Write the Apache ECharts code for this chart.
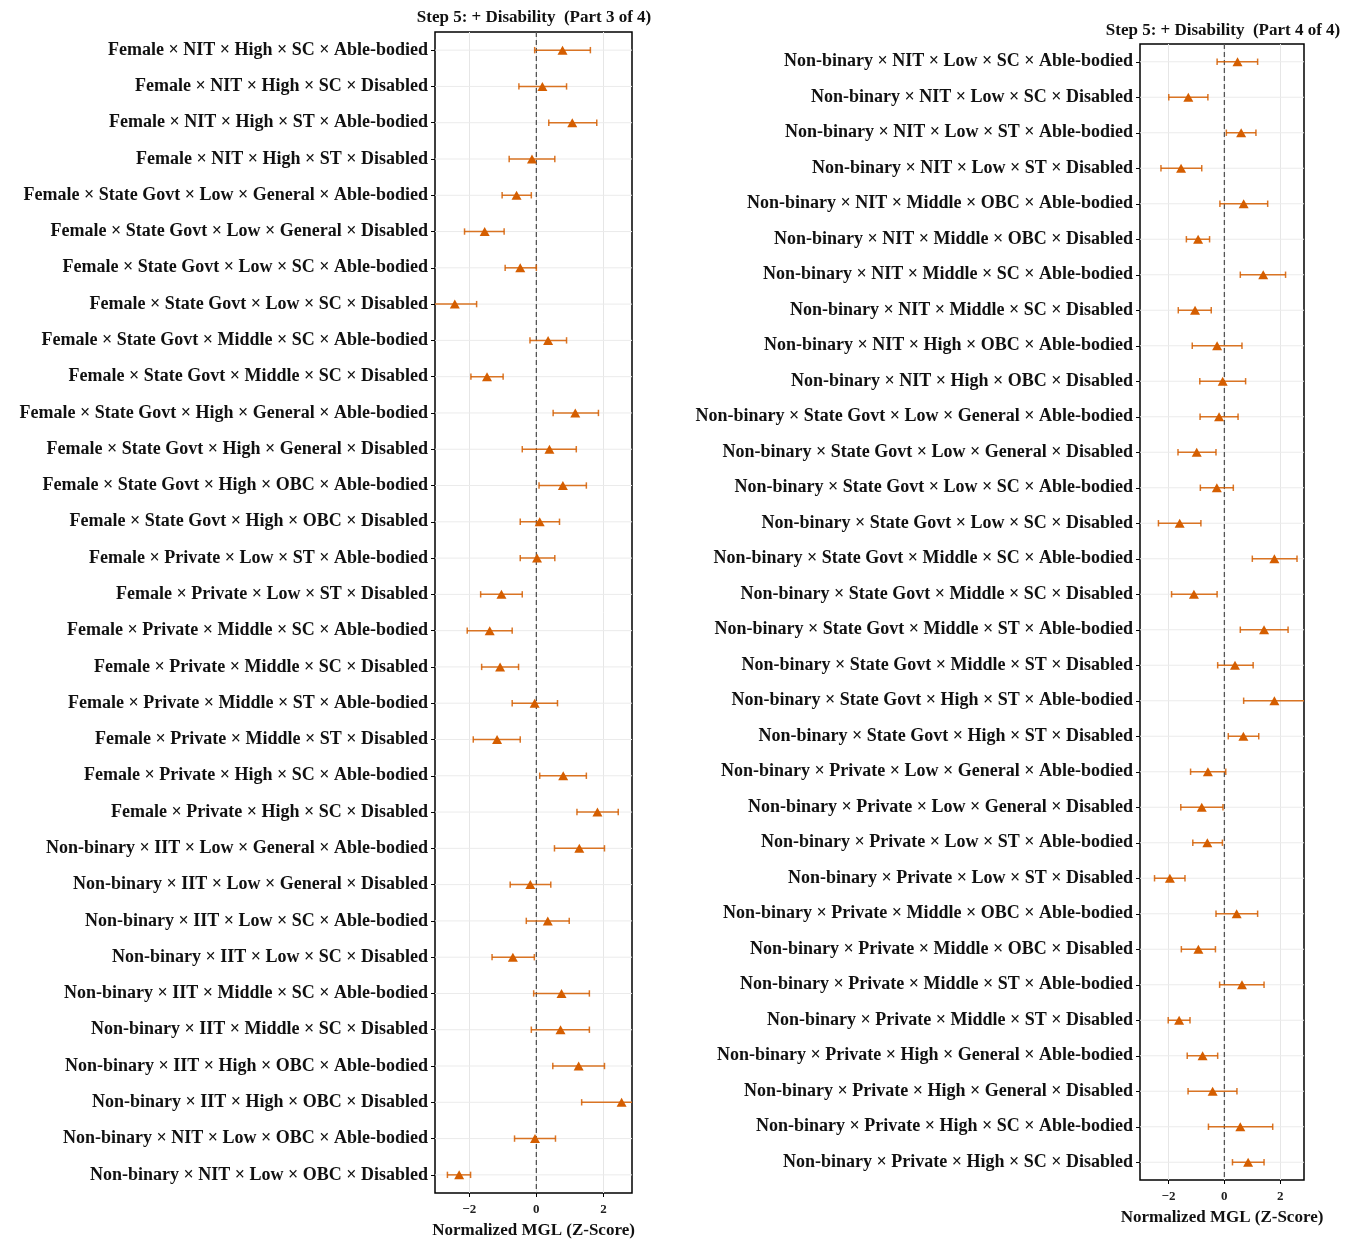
<!DOCTYPE html>
<html>
<head>
<meta charset="utf-8">
<script src="https://cdn.jsdelivr.net/npm/echarts@6/dist/echarts.min.js"></script>
<style>
html,body{margin:0;padding:0;background:#fff;}
#chart{width:1348px;height:1239px;}
</style>
</head>
<body>
<div id="chart"></div>
<script>
const titleLeft = 'Step 5: + Disability  (Part 3 of 4)';
const titleRight = 'Step 5: + Disability  (Part 4 of 4)';
const axisName = 'Normalized MGL (Z-Score)';
const xTicks = [-2, 0, 2];

const labels3 = [
 'Female × NIT × High × SC × Able-bodied',
 'Female × NIT × High × SC × Disabled',
 'Female × NIT × High × ST × Able-bodied',
 'Female × NIT × High × ST × Disabled',
 'Female × State Govt × Low × General × Able-bodied',
 'Female × State Govt × Low × General × Disabled',
 'Female × State Govt × Low × SC × Able-bodied',
 'Female × State Govt × Low × SC × Disabled',
 'Female × State Govt × Middle × SC × Able-bodied',
 'Female × State Govt × Middle × SC × Disabled',
 'Female × State Govt × High × General × Able-bodied',
 'Female × State Govt × High × General × Disabled',
 'Female × State Govt × High × OBC × Able-bodied',
 'Female × State Govt × High × OBC × Disabled',
 'Female × Private × Low × ST × Able-bodied',
 'Female × Private × Low × ST × Disabled',
 'Female × Private × Middle × SC × Able-bodied',
 'Female × Private × Middle × SC × Disabled',
 'Female × Private × Middle × ST × Able-bodied',
 'Female × Private × Middle × ST × Disabled',
 'Female × Private × High × SC × Able-bodied',
 'Female × Private × High × SC × Disabled',
 'Non-binary × IIT × Low × General × Able-bodied',
 'Non-binary × IIT × Low × General × Disabled',
 'Non-binary × IIT × Low × SC × Able-bodied',
 'Non-binary × IIT × Low × SC × Disabled',
 'Non-binary × IIT × Middle × SC × Able-bodied',
 'Non-binary × IIT × Middle × SC × Disabled',
 'Non-binary × IIT × High × OBC × Able-bodied',
 'Non-binary × IIT × High × OBC × Disabled',
 'Non-binary × NIT × Low × OBC × Able-bodied',
 'Non-binary × NIT × Low × OBC × Disabled'
];
const est3 = [0.78,0.18,1.07,-0.13,-0.59,-1.54,-0.48,-2.43,0.35,-1.47,1.16,0.39,0.79,0.10,0.02,-1.04,
              -1.39,-1.08,-0.05,-1.17,0.80,1.82,1.28,-0.18,0.34,-0.70,0.75,0.72,1.26,2.54,-0.04,-2.30];
const lo3  = [-0.05,-0.52,0.37,-0.81,-1.02,-2.14,-0.93,-3.08,-0.19,-1.95,0.50,-0.42,0.08,-0.48,-0.48,-1.66,
              -2.06,-1.63,-0.72,-1.88,0.10,1.21,0.54,-0.78,-0.30,-1.32,-0.08,-0.15,0.49,1.35,-0.65,-2.65];
const hi3  = [1.61,0.90,1.80,0.55,-0.15,-0.96,0.00,-1.78,0.90,-0.99,1.85,1.19,1.49,0.69,0.55,-0.42,
              -0.72,-0.53,0.63,-0.48,1.49,2.44,2.03,0.43,0.98,-0.06,1.58,1.58,2.03,3.73,0.57,-1.96];

const labels4 = [
 'Non-binary × NIT × Low × SC × Able-bodied',
 'Non-binary × NIT × Low × SC × Disabled',
 'Non-binary × NIT × Low × ST × Able-bodied',
 'Non-binary × NIT × Low × ST × Disabled',
 'Non-binary × NIT × Middle × OBC × Able-bodied',
 'Non-binary × NIT × Middle × OBC × Disabled',
 'Non-binary × NIT × Middle × SC × Able-bodied',
 'Non-binary × NIT × Middle × SC × Disabled',
 'Non-binary × NIT × High × OBC × Able-bodied',
 'Non-binary × NIT × High × OBC × Disabled',
 'Non-binary × State Govt × Low × General × Able-bodied',
 'Non-binary × State Govt × Low × General × Disabled',
 'Non-binary × State Govt × Low × SC × Able-bodied',
 'Non-binary × State Govt × Low × SC × Disabled',
 'Non-binary × State Govt × Middle × SC × Able-bodied',
 'Non-binary × State Govt × Middle × SC × Disabled',
 'Non-binary × State Govt × Middle × ST × Able-bodied',
 'Non-binary × State Govt × Middle × ST × Disabled',
 'Non-binary × State Govt × High × ST × Able-bodied',
 'Non-binary × State Govt × High × ST × Disabled',
 'Non-binary × Private × Low × General × Able-bodied',
 'Non-binary × Private × Low × General × Disabled',
 'Non-binary × Private × Low × ST × Able-bodied',
 'Non-binary × Private × Low × ST × Disabled',
 'Non-binary × Private × Middle × OBC × Able-bodied',
 'Non-binary × Private × Middle × OBC × Disabled',
 'Non-binary × Private × Middle × ST × Able-bodied',
 'Non-binary × Private × Middle × ST × Disabled',
 'Non-binary × Private × High × General × Able-bodied',
 'Non-binary × Private × High × General × Disabled',
 'Non-binary × Private × High × SC × Able-bodied',
 'Non-binary × Private × High × SC × Disabled'
];
const est4 = [0.47,-1.29,0.60,-1.55,0.69,-0.94,1.39,-1.05,-0.26,-0.06,-0.19,-0.99,-0.27,-1.60,1.79,-1.09,
              1.42,0.38,1.79,0.68,-0.59,-0.81,-0.61,-1.95,0.44,-0.93,0.63,-1.62,-0.78,-0.42,0.57,0.85];
const lo4  = [-0.26,-1.99,0.07,-2.27,-0.16,-1.36,0.57,-1.65,-1.15,-0.88,-0.87,-1.66,-0.86,-2.36,1.00,-1.89,
              0.57,-0.24,0.69,0.14,-1.21,-1.56,-1.13,-2.50,-0.30,-1.54,-0.17,-2.01,-1.33,-1.30,-0.57,0.29];
const hi4  = [1.19,-0.59,1.13,-0.81,1.55,-0.53,2.19,-0.47,0.63,0.76,0.49,-0.30,0.32,-0.84,2.60,-0.26,
              2.28,1.03,2.89,1.23,0.05,-0.05,-0.07,-1.41,1.19,-0.32,1.42,-1.23,-0.24,0.45,1.73,1.42];

const X_MIN = -3.02, X_MAX = 2.85;
const ORANGE = '#D55E00';
const SERIF = '"Liberation Serif", "DejaVu Serif", serif';

function fmtTick(v){ return v < 0 ? '\u2212' + Math.abs(v) : String(v); }

function errRender(params, api){
  const lo = api.value(0), hi = api.value(1), yi = api.value(2);
  const cs = params.coordSys;
  const p1 = api.coord([lo, yi]);
  const p2 = api.coord([hi, yi]);
  const y = p1[1];
  const xl = cs.x, xr = cs.x + cs.width;
  const a = Math.max(p1[0], xl), b = Math.min(p2[0], xr);
  const capH = 3.2;
  const es = {stroke:ORANGE, lineWidth:1.5, opacity:0.85};
  const children = [
    {type:'line', shape:{x1:xl, y1:y, x2:xr, y2:y}, style:{stroke:'#ebebeb', lineWidth:1}, z2:0}
  ];
  if (params.dataIndex === 0) {
    const zx = api.coord([0, yi])[0];
    children.push({type:'line', shape:{x1:zx, y1:cs.y, x2:zx, y2:cs.y + cs.height},
      style:{stroke:'#555', lineWidth:1.3, lineDash:[5,3]}, z2:1});
  }
  children.push({type:'line', shape:{x1:a, y1:y, x2:b, y2:y}, style:es, z2:2});
  if (p1[0] >= xl) children.push({type:'line', shape:{x1:p1[0], y1:y-capH, x2:p1[0], y2:y+capH}, style:es, z2:2});
  if (p2[0] <= xr) children.push({type:'line', shape:{x1:p2[0], y1:y-capH, x2:p2[0], y2:y+capH}, style:es, z2:2});
  return {type:'group', children};
}

function makeX(gi){
  return {
    type:'value', gridIndex:gi, min:X_MIN, max:X_MAX,
    name: axisName, nameLocation:'middle', nameGap:29,
    nameTextStyle:{fontFamily:SERIF, fontWeight:'bold', fontSize:17, color:'#111'},
    axisLine:{show:false, onZero:false},
    axisTick:{show:true, length:4, customValues:xTicks, lineStyle:{color:'#000', width:1}},
    axisLabel:{customValues:xTicks, formatter:fmtTick, fontFamily:SERIF, fontWeight:'bold', fontSize:13, color:'#222', margin:10},
    splitLine:{show:true, lineStyle:{color:'#e6e6e6', width:1}}
  };
}
function makeY(gi, labels){
  return {
    type:'category', gridIndex:gi, data:labels, inverse:true, boundaryGap:true,
    axisLine:{show:false, onZero:false},
    axisTick:{show:true, alignWithLabel:true, length:4, lineStyle:{color:'#000', width:1}},
    axisLabel:{fontFamily:SERIF, fontWeight:'bold', fontSize:18, color:'#111', margin:7, interval:0},
    splitLine:{show:false}
  };
}
function errData(lo, hi){ return lo.map((v,i)=>[v, hi[i], i]); }
function ptData(est){ return est.map((v,i)=>[v, i]); }

const chart = echarts.init(document.getElementById('chart'), null, {renderer:'canvas'});
chart.setOption({
  animation:false,
  backgroundColor:'#fff',
  title:[
    {text:titleLeft, left:529, top:4, textAlign:'center', textStyle:{fontFamily:SERIF, fontWeight:'bold', fontSize:17, color:'#111'}},
    {text:titleRight, left:1218, top:17, textAlign:'center', textStyle:{fontFamily:SERIF, fontWeight:'bold', fontSize:17, color:'#111'}}
  ],
  grid:[
    {left:435, top:32, width:197, height:1161, show:true, borderColor:'#000', borderWidth:1.5, containLabel:false, outerBoundsMode:'none'},
    {left:1140, top:44, width:164, height:1136, show:true, borderColor:'#000', borderWidth:1.5, containLabel:false, outerBoundsMode:'none'}
  ],
  xAxis:[makeX(0), makeX(1)],
  yAxis:[makeY(0, labels3), makeY(1, labels4)],
  series:[
    {type:'custom', xAxisIndex:0, yAxisIndex:0, renderItem:errRender, data:errData(lo3, hi3),
     encode:{x:[0,1], y:2}, z:2, silent:true},
    {type:'scatter', xAxisIndex:0, yAxisIndex:0, data:ptData(est3), symbol:'triangle', symbolSize:[10,9],
     itemStyle:{color:ORANGE, opacity:1}, z:5, silent:true},
    {type:'custom', xAxisIndex:1, yAxisIndex:1, renderItem:errRender, data:errData(lo4, hi4),
     encode:{x:[0,1], y:2}, z:2, silent:true},
    {type:'scatter', xAxisIndex:1, yAxisIndex:1, data:ptData(est4), symbol:'triangle', symbolSize:[10,9],
     itemStyle:{color:ORANGE, opacity:1}, z:5, silent:true}
  ]
});
</script>
</body>
</html>
